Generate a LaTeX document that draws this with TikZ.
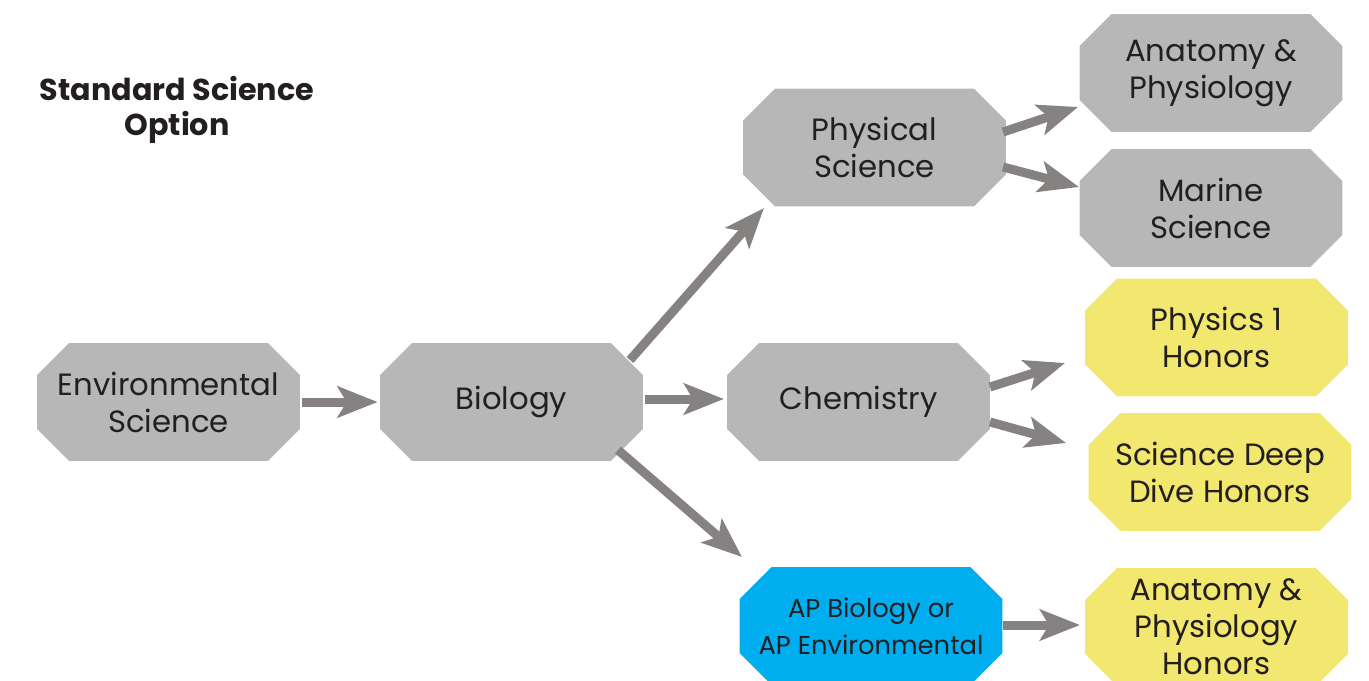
\documentclass[tikz,border=0pt]{standalone}
\usepackage{fontspec}
\setmainfont{Poppins}
\usetikzlibrary{arrows.meta}
\definecolor{boxgray}{HTML}{B7B7B8}
\definecolor{boxyellow}{HTML}{F2E76F}
\definecolor{boxblue}{HTML}{00AEEF}
\definecolor{arrowgray}{HTML}{858281}
\definecolor{textdark}{HTML}{231F20}
\tikzset{
  course/.style={rectangle, inner sep=0pt,
    minimum width=5.26cm, minimum height=2.36cm, align=center,
    text=textdark, font=\fontsize{17.5}{21}\selectfont,
    path picture={\fill[#1]
      ([xshift=0.64cm]path picture bounding box.north west) --
      ([xshift=-0.64cm]path picture bounding box.north east) --
      ([yshift=-0.64cm]path picture bounding box.north east) --
      ([yshift=0.64cm]path picture bounding box.south east) --
      ([xshift=-0.64cm]path picture bounding box.south east) --
      ([xshift=0.64cm]path picture bounding box.south west) --
      ([yshift=0.64cm]path picture bounding box.south west) --
      ([yshift=-0.64cm]path picture bounding box.north west) -- cycle;}},
  graybox/.style={course=boxgray},
  yellowbox/.style={course=boxyellow},
  bluebox/.style={course=boxblue, font=\fontsize{14.7}{21}\selectfont},
  arr/.style={draw=arrowgray, line width=0.18cm,
    -{Stealth[length=0.8cm, width=0.62cm, inset=0.18cm]}},
}
\begin{document}
\begin{tikzpicture}[x=0.02cm,y=-0.02cm]
\useasboundingbox (0,0) rectangle (1369,680);
\node[font=\bfseries\fontsize{17.2}{20}\selectfont, text=textdark, align=center] (title) at (177,110) {Standard Science\\Option};
\node[graybox] (env) at (168.5,402) {Environmental\\Science};
\node[graybox] (bio) at (511.5,402) {Biology};
\node[graybox] (phys) at (874.5,147.5) {Physical\\Science};
\node[graybox] (chem) at (858.5,402) {Chemistry};
\node[bluebox] (ap) at (871,626) {AP Biology or\\AP Environmental};
\node[graybox] (anat) at (1211,73) {Anatomy \&\\Physiology};
\node[graybox] (marine) at (1211,208) {Marine\\Science};
\node[yellowbox] (phys1) at (1216.5,337.5) {Physics 1\\Honors};
\node[yellowbox] (deep) at (1220,472) {Science Deep\\Dive Honors};
\node[yellowbox] (anathon) at (1216.5,627) {Anatomy \&\\Physiology\\Honors};

\draw[arr] ([shift={(2,0)}]env.east) -- ([shift={(-2,0)}]bio.west);
\draw[arr] ([shift={(118.5,-42)}]bio.center) -- ([shift={(-110.5,60.5)}]phys.center);
\draw[arr] ([shift={(133.5,-3)}]bio.center) -- ([shift={(-134.5,-3)}]chem.center);
\draw[arr] ([shift={(106.5,48)}]bio.center) -- ([shift={(-129,-69)}]ap.center);
\draw[arr] ([shift={(128.5,-15.5)}]phys.center) -- ([shift={(-133,34)}]anat.center);
\draw[arr] ([shift={(128.5,19.5)}]phys.center) -- ([shift={(-132,-21)}]marine.center);
\draw[arr] ([shift={(131.5,-15)}]chem.center) -- ([shift={(-151.5,25.5)}]phys1.center);
\draw[arr] ([shift={(131.5,20)}]chem.center) -- ([shift={(-154,-29)}]deep.center);
\draw[arr] ([shift={(132,-1)}]ap.center) -- ([shift={(-136.5,-2)}]anathon.center);
\end{tikzpicture}
\end{document}
